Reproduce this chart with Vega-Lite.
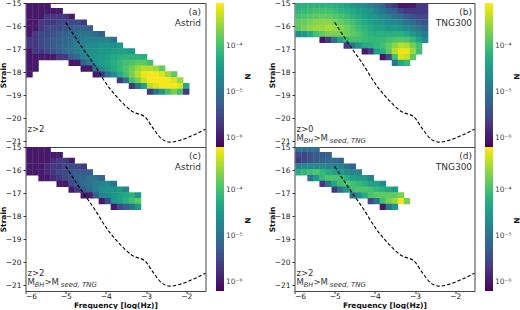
{"$schema":"https://vega.github.io/schema/vega-lite/v6.json","background":"white","padding":{"left":-1.5,"top":-2,"right":0,"bottom":0},"autosize":{"type":"pad"},
"config":{"view":{"stroke":"#444","strokeWidth":1},"font":"DejaVu Sans","axis":{"grid":false,"domain":false,"tickColor":"#333","tickSize":2.5,"labelColor":"#222","labelFontSize":7.5,"titleFontSize":7.5,"titleFontWeight":"bold","titleColor":"#111","labelPadding":2,"labelOverlap":false},"axisX":{"labelPadding":-1,"titlePadding":1},"legend":{"gradientLength":144,"gradientThickness":8,"labelFontSize":7.5,"labelColor":"#444","labelOffset":4,"gradientStrokeWidth":0}},
"datasets":{"one":[{"k":1}],"curve":[{"f":-5,"s":-15.84},{"f":-4.66,"s":-16.75},{"f":-4.28,"s":-17.7},{"f":-3.99,"s":-18.5},{"f":-3.66,"s":-19.2},{"f":-3.33,"s":-19.72},{"f":-3.03,"s":-19.94},{"f":-2.82,"s":-20.45},{"f":-2.62,"s":-20.88},{"f":-2.41,"s":-21.04},{"f":-2.16,"s":-20.96},{"f":-1.83,"s":-20.74},{"f":-1.52,"s":-20.48}],
"a":[
{"x":-5.9,"y":-15.1,"n":1e-6},{"x":-5.9,"y":-15.35,"n":1e-6},{"x":-5.9,"y":-15.6,"n":1e-6},{"x":-5.9,"y":-15.85,"n":1e-6},{"x":-5.9,"y":-16.1,"n":1e-6},{"x":-5.9,"y":-16.35,"n":1e-6},{"x":-5.9,"y":-16.6,"n":2e-6},{"x":-5.9,"y":-16.85,"n":2e-6},{"x":-5.9,"y":-17.1,"n":1e-6},{"x":-5.9,"y":-17.35,"n":1e-6},{"x":-5.9,"y":-17.6,"n":1e-6},{"x":-5.9,"y":-17.85,"n":1e-6},{"x":-5.9,"y":-18.1,"n":1e-6},
{"x":-5.75,"y":-15.1,"n":1e-6},{"x":-5.75,"y":-15.35,"n":1e-6},{"x":-5.75,"y":-15.6,"n":1e-6},{"x":-5.75,"y":-15.85,"n":1e-6},{"x":-5.75,"y":-16.1,"n":1e-6},{"x":-5.75,"y":-16.35,"n":2e-6},{"x":-5.75,"y":-16.6,"n":2e-6},{"x":-5.75,"y":-16.85,"n":2e-6},{"x":-5.75,"y":-17.1,"n":2e-6},{"x":-5.75,"y":-17.35,"n":1e-6},{"x":-5.75,"y":-17.6,"n":1e-6},{"x":-5.75,"y":-17.85,"n":1e-6},
{"x":-5.6,"y":-15.1,"n":1e-6},{"x":-5.6,"y":-15.35,"n":1e-6},{"x":-5.6,"y":-15.6,"n":1e-6},{"x":-5.6,"y":-15.85,"n":2e-6},{"x":-5.6,"y":-16.1,"n":2e-6},{"x":-5.6,"y":-16.35,"n":3e-6},{"x":-5.6,"y":-16.6,"n":3e-6},{"x":-5.6,"y":-16.85,"n":3e-6},{"x":-5.6,"y":-17.1,"n":2e-6},{"x":-5.6,"y":-17.35,"n":1e-6},
{"x":-5.45,"y":-15.1,"n":1e-6},{"x":-5.45,"y":-15.35,"n":1e-6},{"x":-5.45,"y":-15.6,"n":2e-6},{"x":-5.45,"y":-15.85,"n":2e-6},{"x":-5.45,"y":-16.1,"n":3e-6},{"x":-5.45,"y":-16.35,"n":3e-6},{"x":-5.45,"y":-16.6,"n":4e-6},{"x":-5.45,"y":-16.85,"n":4e-6},{"x":-5.45,"y":-17.1,"n":3e-6},{"x":-5.45,"y":-17.35,"n":1e-6},
{"x":-5.3,"y":-15.35,"n":1e-6},{"x":-5.3,"y":-15.6,"n":2e-6},{"x":-5.3,"y":-15.85,"n":2e-6},{"x":-5.3,"y":-16.1,"n":3e-6},{"x":-5.3,"y":-16.35,"n":4e-6},{"x":-5.3,"y":-16.6,"n":5e-6},{"x":-5.3,"y":-16.85,"n":5e-6},{"x":-5.3,"y":-17.1,"n":4e-6},{"x":-5.3,"y":-17.35,"n":1e-6},
{"x":-5.15,"y":-15.35,"n":1e-6},{"x":-5.15,"y":-15.6,"n":2e-6},{"x":-5.15,"y":-15.85,"n":3e-6},{"x":-5.15,"y":-16.1,"n":3e-6},{"x":-5.15,"y":-16.35,"n":5e-6},{"x":-5.15,"y":-16.6,"n":6e-6},{"x":-5.15,"y":-16.85,"n":6e-6},{"x":-5.15,"y":-17.1,"n":5e-6},{"x":-5.15,"y":-17.35,"n":2e-6},
{"x":-5,"y":-15.6,"n":2e-6},{"x":-5,"y":-15.85,"n":3e-6},{"x":-5,"y":-16.1,"n":4e-6},{"x":-5,"y":-16.35,"n":6e-6},{"x":-5,"y":-16.6,"n":7e-6},{"x":-5,"y":-16.85,"n":8e-6},{"x":-5,"y":-17.1,"n":7e-6},{"x":-5,"y":-17.35,"n":2e-6},
{"x":-4.85,"y":-15.6,"n":1e-6},{"x":-4.85,"y":-15.85,"n":3e-6},{"x":-4.85,"y":-16.1,"n":5e-6},{"x":-4.85,"y":-16.35,"n":7e-6},{"x":-4.85,"y":-16.6,"n":9e-6},{"x":-4.85,"y":-16.85,"n":1e-5},{"x":-4.85,"y":-17.1,"n":1e-5},{"x":-4.85,"y":-17.35,"n":5e-6},{"x":-4.85,"y":-17.6,"n":1e-6},
{"x":-4.7,"y":-15.85,"n":3e-6},{"x":-4.7,"y":-16.1,"n":6e-6},{"x":-4.7,"y":-16.35,"n":9e-6},{"x":-4.7,"y":-16.6,"n":1e-5},{"x":-4.7,"y":-16.85,"n":1.3e-5},{"x":-4.7,"y":-17.1,"n":1.3e-5},{"x":-4.7,"y":-17.35,"n":8e-6},{"x":-4.7,"y":-17.6,"n":1e-6},
{"x":-4.55,"y":-15.85,"n":2e-6},{"x":-4.55,"y":-16.1,"n":6e-6},{"x":-4.55,"y":-16.35,"n":1e-5},{"x":-4.55,"y":-16.6,"n":1.3e-5},{"x":-4.55,"y":-16.85,"n":1.6e-5},{"x":-4.55,"y":-17.1,"n":1.8e-5},{"x":-4.55,"y":-17.35,"n":1.5e-5},{"x":-4.55,"y":-17.6,"n":6e-6},{"x":-4.55,"y":-17.85,"n":1e-6},
{"x":-4.4,"y":-16.1,"n":5e-6},{"x":-4.4,"y":-16.35,"n":1e-5},{"x":-4.4,"y":-16.6,"n":1.5e-5},{"x":-4.4,"y":-16.85,"n":2e-5},{"x":-4.4,"y":-17.1,"n":2.2e-5},{"x":-4.4,"y":-17.35,"n":2e-5},{"x":-4.4,"y":-17.6,"n":1.2e-5},{"x":-4.4,"y":-17.85,"n":1e-6},
{"x":-4.25,"y":-16.35,"n":8e-6},{"x":-4.25,"y":-16.6,"n":1.5e-5},{"x":-4.25,"y":-16.85,"n":2e-5},{"x":-4.25,"y":-17.1,"n":2.5e-5},{"x":-4.25,"y":-17.35,"n":3e-5},{"x":-4.25,"y":-17.6,"n":2.5e-5},{"x":-4.25,"y":-17.85,"n":1e-5},{"x":-4.25,"y":-18.1,"n":1e-6},
{"x":-4.1,"y":-16.35,"n":5e-6},{"x":-4.1,"y":-16.6,"n":1.5e-5},{"x":-4.1,"y":-16.85,"n":2.5e-5},{"x":-4.1,"y":-17.1,"n":3e-5},{"x":-4.1,"y":-17.35,"n":3.5e-5},{"x":-4.1,"y":-17.6,"n":3.5e-5},{"x":-4.1,"y":-17.85,"n":2e-5},{"x":-4.1,"y":-18.1,"n":2e-6},
{"x":-3.95,"y":-16.6,"n":1.5e-5},{"x":-3.95,"y":-16.85,"n":2.5e-5},{"x":-3.95,"y":-17.1,"n":3e-5},{"x":-3.95,"y":-17.35,"n":4e-5},{"x":-3.95,"y":-17.6,"n":4.5e-5},{"x":-3.95,"y":-17.85,"n":3.5e-5},{"x":-3.95,"y":-18.1,"n":1e-5},
{"x":-3.8,"y":-16.6,"n":1e-5},{"x":-3.8,"y":-16.85,"n":2.5e-5},{"x":-3.8,"y":-17.1,"n":3.5e-5},{"x":-3.8,"y":-17.35,"n":5e-5},{"x":-3.8,"y":-17.6,"n":6e-5},{"x":-3.8,"y":-17.85,"n":5e-5},{"x":-3.8,"y":-18.1,"n":2e-5},
{"x":-3.65,"y":-16.85,"n":3e-5},{"x":-3.65,"y":-17.1,"n":4e-5},{"x":-3.65,"y":-17.35,"n":6e-5},{"x":-3.65,"y":-17.6,"n":8e-5},{"x":-3.65,"y":-17.85,"n":8e-5},{"x":-3.65,"y":-18.1,"n":5e-5},{"x":-3.65,"y":-18.35,"n":2e-6},
{"x":-3.5,"y":-17.1,"n":4e-5},{"x":-3.5,"y":-17.35,"n":7e-5},{"x":-3.5,"y":-17.6,"n":1e-4},{"x":-3.5,"y":-17.85,"n":1.2e-4},{"x":-3.5,"y":-18.1,"n":1e-4},{"x":-3.5,"y":-18.35,"n":1e-5},
{"x":-3.35,"y":-17.1,"n":3e-5},{"x":-3.35,"y":-17.35,"n":7e-5},{"x":-3.35,"y":-17.6,"n":1.2e-4},{"x":-3.35,"y":-17.85,"n":1.8e-4},{"x":-3.35,"y":-18.1,"n":2e-4},{"x":-3.35,"y":-18.35,"n":1e-4},{"x":-3.35,"y":-18.6,"n":2e-6},
{"x":-3.2,"y":-17.35,"n":7e-5},{"x":-3.2,"y":-17.6,"n":1.5e-4},{"x":-3.2,"y":-17.85,"n":3e-4},{"x":-3.2,"y":-18.1,"n":4e-4},{"x":-3.2,"y":-18.35,"n":2e-4},{"x":-3.2,"y":-18.6,"n":1e-5},
{"x":-3.05,"y":-17.35,"n":6e-5},{"x":-3.05,"y":-17.6,"n":1.5e-4},{"x":-3.05,"y":-17.85,"n":4e-4},{"x":-3.05,"y":-18.1,"n":7e-4},{"x":-3.05,"y":-18.35,"n":5e-4},{"x":-3.05,"y":-18.6,"n":4e-5},
{"x":-2.9,"y":-17.6,"n":1e-4},{"x":-2.9,"y":-17.85,"n":4e-4},{"x":-2.9,"y":-18.1,"n":8e-4},{"x":-2.9,"y":-18.35,"n":8e-4},{"x":-2.9,"y":-18.6,"n":4e-4},{"x":-2.9,"y":-18.85,"n":2e-6},
{"x":-2.75,"y":-17.85,"n":3e-4},{"x":-2.75,"y":-18.1,"n":8e-4},{"x":-2.75,"y":-18.35,"n":8e-4},{"x":-2.75,"y":-18.6,"n":6e-4},{"x":-2.75,"y":-18.85,"n":1e-5},
{"x":-2.6,"y":-17.85,"n":1.5e-4},{"x":-2.6,"y":-18.1,"n":6e-4},{"x":-2.6,"y":-18.35,"n":8e-4},{"x":-2.6,"y":-18.6,"n":8e-4},{"x":-2.6,"y":-18.85,"n":3e-5},
{"x":-2.45,"y":-18.1,"n":3e-4},{"x":-2.45,"y":-18.35,"n":8e-4},{"x":-2.45,"y":-18.6,"n":8e-4},{"x":-2.45,"y":-18.85,"n":1e-4},
{"x":-2.3,"y":-18.1,"n":1.5e-4},{"x":-2.3,"y":-18.35,"n":6e-4},{"x":-2.3,"y":-18.6,"n":8e-4},{"x":-2.3,"y":-18.85,"n":2e-4},
{"x":-2.15,"y":-18.35,"n":3e-4},{"x":-2.15,"y":-18.6,"n":6e-4},{"x":-2.15,"y":-18.85,"n":1e-4},
{"x":-2,"y":-18.6,"n":5e-5},{"x":-2,"y":-18.85,"n":2e-6}],
"b":[
{"x":-5.9,"y":-15.1,"n":6e-5},{"x":-5.9,"y":-15.35,"n":7e-5},{"x":-5.9,"y":-15.6,"n":1e-4},{"x":-5.9,"y":-15.85,"n":1.5e-4},{"x":-5.9,"y":-16.1,"n":1.5e-4},{"x":-5.9,"y":-16.35,"n":2e-5},
{"x":-5.75,"y":-15.1,"n":6e-5},{"x":-5.75,"y":-15.35,"n":8e-5},{"x":-5.75,"y":-15.6,"n":1.2e-4},{"x":-5.75,"y":-15.85,"n":1.6e-4},{"x":-5.75,"y":-16.1,"n":2e-4},{"x":-5.75,"y":-16.35,"n":3e-5},
{"x":-5.6,"y":-15.1,"n":7e-5},{"x":-5.6,"y":-15.35,"n":9e-5},{"x":-5.6,"y":-15.6,"n":1.3e-4},{"x":-5.6,"y":-15.85,"n":2e-4},{"x":-5.6,"y":-16.1,"n":2.5e-4},{"x":-5.6,"y":-16.35,"n":5e-5},
{"x":-5.45,"y":-15.1,"n":7e-5},{"x":-5.45,"y":-15.35,"n":1e-4},{"x":-5.45,"y":-15.6,"n":1.5e-4},{"x":-5.45,"y":-15.85,"n":2.5e-4},{"x":-5.45,"y":-16.1,"n":3e-4},{"x":-5.45,"y":-16.35,"n":1e-4},
{"x":-5.3,"y":-15.1,"n":7e-5},{"x":-5.3,"y":-15.35,"n":1e-4},{"x":-5.3,"y":-15.6,"n":1.6e-4},{"x":-5.3,"y":-15.85,"n":2.5e-4},{"x":-5.3,"y":-16.1,"n":3e-4},{"x":-5.3,"y":-16.35,"n":1.5e-4},{"x":-5.3,"y":-16.6,"n":1e-6},
{"x":-5.15,"y":-15.1,"n":7e-5},{"x":-5.15,"y":-15.35,"n":1e-4},{"x":-5.15,"y":-15.6,"n":1.5e-4},{"x":-5.15,"y":-15.85,"n":2.5e-4},{"x":-5.15,"y":-16.1,"n":3.5e-4},{"x":-5.15,"y":-16.35,"n":2e-4},{"x":-5.15,"y":-16.6,"n":2e-6},
{"x":-5,"y":-15.1,"n":6e-5},{"x":-5,"y":-15.35,"n":9e-5},{"x":-5,"y":-15.6,"n":1.3e-4},{"x":-5,"y":-15.85,"n":2e-4},{"x":-5,"y":-16.1,"n":3e-4},{"x":-5,"y":-16.35,"n":2e-4},{"x":-5,"y":-16.6,"n":1e-5},
{"x":-4.85,"y":-15.1,"n":5e-5},{"x":-4.85,"y":-15.35,"n":7e-5},{"x":-4.85,"y":-15.6,"n":1e-4},{"x":-4.85,"y":-15.85,"n":1.6e-4},{"x":-4.85,"y":-16.1,"n":2.5e-4},{"x":-4.85,"y":-16.35,"n":2e-4},{"x":-4.85,"y":-16.6,"n":4e-5},
{"x":-4.7,"y":-15.1,"n":4e-5},{"x":-4.7,"y":-15.35,"n":6e-5},{"x":-4.7,"y":-15.6,"n":9e-5},{"x":-4.7,"y":-15.85,"n":1.3e-4},{"x":-4.7,"y":-16.1,"n":1.8e-4},{"x":-4.7,"y":-16.35,"n":1.8e-4},{"x":-4.7,"y":-16.6,"n":8e-5},{"x":-4.7,"y":-16.85,"n":2e-6},
{"x":-4.55,"y":-15.1,"n":3e-5},{"x":-4.55,"y":-15.35,"n":5e-5},{"x":-4.55,"y":-15.6,"n":7e-5},{"x":-4.55,"y":-15.85,"n":1e-4},{"x":-4.55,"y":-16.1,"n":1.3e-4},{"x":-4.55,"y":-16.35,"n":1.5e-4},{"x":-4.55,"y":-16.6,"n":1e-4},{"x":-4.55,"y":-16.85,"n":1e-5},
{"x":-4.4,"y":-15.1,"n":2.5e-5},{"x":-4.4,"y":-15.35,"n":4e-5},{"x":-4.4,"y":-15.6,"n":5e-5},{"x":-4.4,"y":-15.85,"n":7e-5},{"x":-4.4,"y":-16.1,"n":9e-5},{"x":-4.4,"y":-16.35,"n":1.2e-4},{"x":-4.4,"y":-16.6,"n":1e-4},{"x":-4.4,"y":-16.85,"n":3e-5},
{"x":-4.25,"y":-15.1,"n":2e-5},{"x":-4.25,"y":-15.35,"n":3e-5},{"x":-4.25,"y":-15.6,"n":4e-5},{"x":-4.25,"y":-15.85,"n":5e-5},{"x":-4.25,"y":-16.1,"n":7e-5},{"x":-4.25,"y":-16.35,"n":9e-5},{"x":-4.25,"y":-16.6,"n":9e-5},{"x":-4.25,"y":-16.85,"n":5e-5},{"x":-4.25,"y":-17.1,"n":1e-6},
{"x":-4.1,"y":-15.1,"n":1.5e-5},{"x":-4.1,"y":-15.35,"n":2.5e-5},{"x":-4.1,"y":-15.6,"n":3e-5},{"x":-4.1,"y":-15.85,"n":4e-5},{"x":-4.1,"y":-16.1,"n":5e-5},{"x":-4.1,"y":-16.35,"n":7e-5},{"x":-4.1,"y":-16.6,"n":8e-5},{"x":-4.1,"y":-16.85,"n":6e-5},{"x":-4.1,"y":-17.1,"n":2e-6},
{"x":-3.95,"y":-15.1,"n":1e-5},{"x":-3.95,"y":-15.35,"n":1.5e-5},{"x":-3.95,"y":-15.6,"n":2.5e-5},{"x":-3.95,"y":-15.85,"n":3e-5},{"x":-3.95,"y":-16.1,"n":4e-5},{"x":-3.95,"y":-16.35,"n":6e-5},{"x":-3.95,"y":-16.6,"n":8e-5},{"x":-3.95,"y":-16.85,"n":8e-5},{"x":-3.95,"y":-17.1,"n":4e-5},
{"x":-3.8,"y":-15.1,"n":6e-6},{"x":-3.8,"y":-15.35,"n":1e-5},{"x":-3.8,"y":-15.6,"n":2e-5},{"x":-3.8,"y":-15.85,"n":2.5e-5},{"x":-3.8,"y":-16.1,"n":4e-5},{"x":-3.8,"y":-16.35,"n":6e-5},{"x":-3.8,"y":-16.6,"n":8e-5},{"x":-3.8,"y":-16.85,"n":1e-4},{"x":-3.8,"y":-17.1,"n":6e-5},{"x":-3.8,"y":-17.35,"n":1e-6},
{"x":-3.65,"y":-15.1,"n":3e-6},{"x":-3.65,"y":-15.35,"n":7e-6},{"x":-3.65,"y":-15.6,"n":1.5e-5},{"x":-3.65,"y":-15.85,"n":2e-5},{"x":-3.65,"y":-16.1,"n":3e-5},{"x":-3.65,"y":-16.35,"n":6e-5},{"x":-3.65,"y":-16.6,"n":1e-4},{"x":-3.65,"y":-16.85,"n":1.5e-4},{"x":-3.65,"y":-17.1,"n":1.5e-4},{"x":-3.65,"y":-17.35,"n":3e-6},
{"x":-3.5,"y":-15.1,"n":2e-6},{"x":-3.5,"y":-15.35,"n":5e-6},{"x":-3.5,"y":-15.6,"n":1e-5},{"x":-3.5,"y":-15.85,"n":2e-5},{"x":-3.5,"y":-16.1,"n":3e-5},{"x":-3.5,"y":-16.35,"n":6e-5},{"x":-3.5,"y":-16.6,"n":1.2e-4},{"x":-3.5,"y":-16.85,"n":2.5e-4},{"x":-3.5,"y":-17.1,"n":4e-4},{"x":-3.5,"y":-17.35,"n":1e-4},{"x":-3.5,"y":-17.6,"n":1e-5},
{"x":-3.35,"y":-15.1,"n":1e-6},{"x":-3.35,"y":-15.35,"n":3e-6},{"x":-3.35,"y":-15.6,"n":8e-6},{"x":-3.35,"y":-15.85,"n":1.5e-5},{"x":-3.35,"y":-16.1,"n":2.5e-5},{"x":-3.35,"y":-16.35,"n":6e-5},{"x":-3.35,"y":-16.6,"n":1.3e-4},{"x":-3.35,"y":-16.85,"n":4e-4},{"x":-3.35,"y":-17.1,"n":7e-4},{"x":-3.35,"y":-17.35,"n":6e-4},{"x":-3.35,"y":-17.6,"n":5e-5},
{"x":-3.2,"y":-15.1,"n":1e-6},{"x":-3.2,"y":-15.35,"n":2e-6},{"x":-3.2,"y":-15.6,"n":5e-6},{"x":-3.2,"y":-15.85,"n":1e-5},{"x":-3.2,"y":-16.1,"n":2e-5},{"x":-3.2,"y":-16.35,"n":5e-5},{"x":-3.2,"y":-16.6,"n":1.2e-4},{"x":-3.2,"y":-16.85,"n":3.5e-4},{"x":-3.2,"y":-17.1,"n":7e-4},{"x":-3.2,"y":-17.35,"n":5e-4},{"x":-3.2,"y":-17.6,"n":8e-5},
{"x":-3.05,"y":-15.1,"n":1e-6},{"x":-3.05,"y":-15.35,"n":2e-6},{"x":-3.05,"y":-15.6,"n":4e-6},{"x":-3.05,"y":-15.85,"n":8e-6},{"x":-3.05,"y":-16.1,"n":1.5e-5},{"x":-3.05,"y":-16.35,"n":3e-5},{"x":-3.05,"y":-16.6,"n":8e-5},{"x":-3.05,"y":-16.85,"n":2e-4},{"x":-3.05,"y":-17.1,"n":3e-4},{"x":-3.05,"y":-17.35,"n":1.5e-4},
{"x":-2.9,"y":-15.1,"n":2e-6},{"x":-2.9,"y":-15.35,"n":2e-6},{"x":-2.9,"y":-15.6,"n":3e-6},{"x":-2.9,"y":-15.85,"n":5e-6},{"x":-2.9,"y":-16.1,"n":1e-5},{"x":-2.9,"y":-16.35,"n":2e-5},{"x":-2.9,"y":-16.6,"n":4e-5},{"x":-2.9,"y":-16.85,"n":1e-4},{"x":-2.9,"y":-17.1,"n":1e-4},
{"x":-2.75,"y":-15.1,"n":2e-6},{"x":-2.75,"y":-15.35,"n":2e-6},{"x":-2.75,"y":-15.6,"n":3e-6},{"x":-2.75,"y":-15.85,"n":4e-6},{"x":-2.75,"y":-16.1,"n":7e-6},{"x":-2.75,"y":-16.35,"n":1.2e-5},{"x":-2.75,"y":-16.6,"n":2e-5}],
"c":[
{"x":-5.9,"y":-15.1,"n":1e-6},{"x":-5.9,"y":-15.35,"n":1e-6},{"x":-5.9,"y":-15.6,"n":1e-6},{"x":-5.9,"y":-15.85,"n":1e-6},{"x":-5.9,"y":-16.1,"n":1e-6},
{"x":-5.75,"y":-15.1,"n":1e-6},{"x":-5.75,"y":-15.35,"n":1e-6},{"x":-5.75,"y":-15.6,"n":1e-6},{"x":-5.75,"y":-15.85,"n":1e-6},{"x":-5.75,"y":-16.1,"n":1e-6},
{"x":-5.6,"y":-15.1,"n":1e-6},{"x":-5.6,"y":-15.35,"n":1e-6},{"x":-5.6,"y":-15.6,"n":1e-6},{"x":-5.6,"y":-15.85,"n":1e-6},{"x":-5.6,"y":-16.1,"n":1e-6},{"x":-5.6,"y":-16.35,"n":1e-6},
{"x":-5.45,"y":-15.1,"n":1e-6},{"x":-5.45,"y":-15.35,"n":1e-6},{"x":-5.45,"y":-15.6,"n":1e-6},{"x":-5.45,"y":-15.85,"n":1.5e-6},{"x":-5.45,"y":-16.1,"n":1.5e-6},{"x":-5.45,"y":-16.35,"n":1e-6},
{"x":-5.3,"y":-15.35,"n":1e-6},{"x":-5.3,"y":-15.6,"n":1.5e-6},{"x":-5.3,"y":-15.85,"n":2e-6},{"x":-5.3,"y":-16.1,"n":2e-6},{"x":-5.3,"y":-16.35,"n":1.5e-6},
{"x":-5.15,"y":-15.35,"n":1e-6},{"x":-5.15,"y":-15.6,"n":2e-6},{"x":-5.15,"y":-15.85,"n":2e-6},{"x":-5.15,"y":-16.1,"n":3e-6},{"x":-5.15,"y":-16.35,"n":2e-6},{"x":-5.15,"y":-16.6,"n":1e-6},
{"x":-5,"y":-15.6,"n":2e-6},{"x":-5,"y":-15.85,"n":3e-6},{"x":-5,"y":-16.1,"n":3e-6},{"x":-5,"y":-16.35,"n":3e-6},{"x":-5,"y":-16.6,"n":1e-6},
{"x":-4.85,"y":-15.6,"n":1e-6},{"x":-4.85,"y":-15.85,"n":3e-6},{"x":-4.85,"y":-16.1,"n":4e-6},{"x":-4.85,"y":-16.35,"n":4e-6},{"x":-4.85,"y":-16.6,"n":3e-6},{"x":-4.85,"y":-16.85,"n":1e-6},
{"x":-4.7,"y":-15.85,"n":3e-6},{"x":-4.7,"y":-16.1,"n":5e-6},{"x":-4.7,"y":-16.35,"n":6e-6},{"x":-4.7,"y":-16.6,"n":5e-6},{"x":-4.7,"y":-16.85,"n":2e-6},
{"x":-4.55,"y":-15.85,"n":2e-6},{"x":-4.55,"y":-16.1,"n":5e-6},{"x":-4.55,"y":-16.35,"n":7e-6},{"x":-4.55,"y":-16.6,"n":8e-6},{"x":-4.55,"y":-16.85,"n":5e-6},{"x":-4.55,"y":-17.1,"n":1e-6},
{"x":-4.4,"y":-16.1,"n":5e-6},{"x":-4.4,"y":-16.35,"n":1e-5},{"x":-4.4,"y":-16.6,"n":1e-5},{"x":-4.4,"y":-16.85,"n":8e-6},{"x":-4.4,"y":-17.1,"n":1e-6},
{"x":-4.25,"y":-16.35,"n":1e-5},{"x":-4.25,"y":-16.6,"n":1.3e-5},{"x":-4.25,"y":-16.85,"n":1.3e-5},{"x":-4.25,"y":-17.1,"n":5e-6},
{"x":-4.1,"y":-16.35,"n":6e-6},{"x":-4.1,"y":-16.6,"n":1.5e-5},{"x":-4.1,"y":-16.85,"n":2e-5},{"x":-4.1,"y":-17.1,"n":1.5e-5},{"x":-4.1,"y":-17.35,"n":1e-6},
{"x":-3.95,"y":-16.6,"n":2e-5},{"x":-3.95,"y":-16.85,"n":2.5e-5},{"x":-3.95,"y":-17.1,"n":2e-5},{"x":-3.95,"y":-17.35,"n":3e-6},
{"x":-3.8,"y":-16.6,"n":1e-5},{"x":-3.8,"y":-16.85,"n":2.5e-5},{"x":-3.8,"y":-17.1,"n":3e-5},{"x":-3.8,"y":-17.35,"n":2.5e-5},{"x":-3.8,"y":-17.6,"n":1e-6},
{"x":-3.65,"y":-16.85,"n":3e-5},{"x":-3.65,"y":-17.1,"n":4e-5},{"x":-3.65,"y":-17.35,"n":4e-5},{"x":-3.65,"y":-17.6,"n":3e-6},
{"x":-3.5,"y":-16.85,"n":1.5e-5},{"x":-3.5,"y":-17.1,"n":5e-5},{"x":-3.5,"y":-17.35,"n":6e-5},{"x":-3.5,"y":-17.6,"n":5e-6},
{"x":-3.35,"y":-17.1,"n":7e-5},{"x":-3.35,"y":-17.35,"n":1e-4},{"x":-3.35,"y":-17.6,"n":1e-5},
{"x":-3.2,"y":-17.1,"n":3e-5},{"x":-3.2,"y":-17.35,"n":1.5e-4},{"x":-3.2,"y":-17.6,"n":3e-5}],
"d":[
{"x":-5.9,"y":-15.1,"n":1e-5},{"x":-5.9,"y":-15.35,"n":3e-6},{"x":-5.9,"y":-15.6,"n":2e-6},{"x":-5.9,"y":-15.85,"n":1.5e-5},{"x":-5.9,"y":-16.1,"n":6e-5},
{"x":-5.75,"y":-15.1,"n":1e-5},{"x":-5.75,"y":-15.35,"n":3e-6},{"x":-5.75,"y":-15.6,"n":3e-6},{"x":-5.75,"y":-15.85,"n":2e-5},{"x":-5.75,"y":-16.1,"n":8e-5},
{"x":-5.6,"y":-15.1,"n":1e-5},{"x":-5.6,"y":-15.35,"n":4e-6},{"x":-5.6,"y":-15.6,"n":4e-6},{"x":-5.6,"y":-15.85,"n":2e-5},{"x":-5.6,"y":-16.1,"n":1e-4},{"x":-5.6,"y":-16.35,"n":1e-5},
{"x":-5.45,"y":-15.1,"n":1e-5},{"x":-5.45,"y":-15.35,"n":5e-6},{"x":-5.45,"y":-15.6,"n":5e-6},{"x":-5.45,"y":-15.85,"n":2e-5},{"x":-5.45,"y":-16.1,"n":1.2e-4},{"x":-5.45,"y":-16.35,"n":3e-5},
{"x":-5.3,"y":-15.35,"n":5e-6},{"x":-5.3,"y":-15.6,"n":6e-6},{"x":-5.3,"y":-15.85,"n":2e-5},{"x":-5.3,"y":-16.1,"n":8e-5},{"x":-5.3,"y":-16.35,"n":8e-5},{"x":-5.3,"y":-16.6,"n":2e-6},
{"x":-5.15,"y":-15.35,"n":6e-6},{"x":-5.15,"y":-15.6,"n":7e-6},{"x":-5.15,"y":-15.85,"n":1.5e-5},{"x":-5.15,"y":-16.1,"n":5e-5},{"x":-5.15,"y":-16.35,"n":1.2e-4},{"x":-5.15,"y":-16.6,"n":1e-5},
{"x":-5,"y":-15.6,"n":8e-6},{"x":-5,"y":-15.85,"n":1.5e-5},{"x":-5,"y":-16.1,"n":4e-5},{"x":-5,"y":-16.35,"n":1.2e-4},{"x":-5,"y":-16.6,"n":5e-5},{"x":-5,"y":-16.85,"n":2e-6},
{"x":-4.85,"y":-15.6,"n":6e-6},{"x":-4.85,"y":-15.85,"n":1.5e-5},{"x":-4.85,"y":-16.1,"n":3e-5},{"x":-4.85,"y":-16.35,"n":1e-4},{"x":-4.85,"y":-16.6,"n":1e-4},{"x":-4.85,"y":-16.85,"n":1e-5},
{"x":-4.7,"y":-15.85,"n":1e-5},{"x":-4.7,"y":-16.1,"n":2e-5},{"x":-4.7,"y":-16.35,"n":6e-5},{"x":-4.7,"y":-16.6,"n":1.2e-4},{"x":-4.7,"y":-16.85,"n":3e-5},
{"x":-4.55,"y":-15.85,"n":6e-6},{"x":-4.55,"y":-16.1,"n":1.5e-5},{"x":-4.55,"y":-16.35,"n":4e-5},{"x":-4.55,"y":-16.6,"n":1e-4},{"x":-4.55,"y":-16.85,"n":1e-4},{"x":-4.55,"y":-17.1,"n":1e-5},
{"x":-4.4,"y":-16.1,"n":1.5e-5},{"x":-4.4,"y":-16.35,"n":3e-5},{"x":-4.4,"y":-16.6,"n":8e-5},{"x":-4.4,"y":-16.85,"n":1.2e-4},{"x":-4.4,"y":-17.1,"n":2e-5},
{"x":-4.25,"y":-16.35,"n":3e-5},{"x":-4.25,"y":-16.6,"n":6e-5},{"x":-4.25,"y":-16.85,"n":1.2e-4},{"x":-4.25,"y":-17.1,"n":5e-5},
{"x":-4.1,"y":-16.35,"n":1.5e-5},{"x":-4.1,"y":-16.6,"n":4e-5},{"x":-4.1,"y":-16.85,"n":1e-4},{"x":-4.1,"y":-17.1,"n":1.2e-4},{"x":-4.1,"y":-17.35,"n":3e-6},
{"x":-3.95,"y":-16.6,"n":4e-5},{"x":-3.95,"y":-16.85,"n":8e-5},{"x":-3.95,"y":-17.1,"n":1.5e-4},{"x":-3.95,"y":-17.35,"n":1e-5},
{"x":-3.8,"y":-16.6,"n":2e-5},{"x":-3.8,"y":-16.85,"n":6e-5},{"x":-3.8,"y":-17.1,"n":1.5e-4},{"x":-3.8,"y":-17.35,"n":1e-4},{"x":-3.8,"y":-17.6,"n":1e-6},
{"x":-3.65,"y":-16.85,"n":5e-5},{"x":-3.65,"y":-17.1,"n":1.5e-4},{"x":-3.65,"y":-17.35,"n":2e-4},{"x":-3.65,"y":-17.6,"n":1e-5},
{"x":-3.5,"y":-16.85,"n":3e-5},{"x":-3.5,"y":-17.1,"n":1.5e-4},{"x":-3.5,"y":-17.35,"n":3e-4},{"x":-3.5,"y":-17.6,"n":3e-5},
{"x":-3.35,"y":-17.1,"n":2e-4},{"x":-3.35,"y":-17.35,"n":8e-4},
{"x":-3.2,"y":-17.35,"n":2e-4}]},
"bounds":"flush","spacing":269,"resolve":{"scale":{"color":"independent"}},
"hconcat":[
{"vconcat":[
{"width":180,"height":144,"data":{"name":"one"},"resolve":{"axis":{"x":"independent","y":"independent"}},"layer":[
{"data":{"name":"a"},"mark":{"type":"rect","width":6.4,"height":6.1,"clip":true},"encoding":{"x":{"field":"x","type":"quantitative","scale":{"domain":[-6,-1.52],"nice":false,"zero":false},"axis":{"values":[-6,-5,-4,-3,-2],"labels":false,"ticks":false,"title":null}},"y":{"field":"y","type":"quantitative","scale":{"domain":[-21.25,-15],"nice":false,"zero":false},"axis":{"values":[-15,-16,-17,-18,-19,-20,-21],"title":"Strain","titleX":-18.5}},"color":{"field":"n","type":"quantitative","scale":{"type":"log","scheme":"viridis","domain":[6.3e-7,8.9e-4],"clamp":true,"nice":false},"legend":{"orient":"none","legendX":190.5,"legendY":0,"title":null,"values":[1e-6,1e-5,1e-4],"labelExpr":"datum.value<5e-6?'10⁻⁶':datum.value<5e-5?'10⁻⁵':'10⁻⁴'"}}}},
{"data":{"name":"curve"},"mark":{"type":"line","color":"black","strokeWidth":1.1,"strokeDash":[3.5,2],"interpolate":"monotone"},"encoding":{"x":{"field":"f","type":"quantitative","axis":null},"y":{"field":"s","type":"quantitative","axis":null}}},
{"mark":{"type":"text","align":"right","fontSize":9,"color":"#333"},"encoding":{"x":{"datum":-1.63,"axis":null},"y":{"datum":-15.4,"axis":null},"text":{"value":"(a)"}}},
{"mark":{"type":"text","align":"right","fontSize":9,"color":"#333"},"encoding":{"x":{"datum":-1.63,"axis":null},"y":{"datum":-15.85,"axis":null},"text":{"value":"Astrid"}}},
{"mark":{"type":"text","align":"left","fontSize":8.5,"color":"#333"},"encoding":{"x":{"datum":-5.95,"axis":null},"y":{"datum":-20.45,"axis":null},"text":{"value":"z>2"}}},
{"mark":{"type":"text","fontSize":7.5,"fontWeight":"bold","angle":90,"color":"#111"},"encoding":{"x":{"datum":-0.475,"axis":null},"y":{"datum":-18.2,"axis":null},"text":{"value":"N"}}}
]},
{"width":180,"height":144,"data":{"name":"one"},"resolve":{"axis":{"x":"independent","y":"independent"}},"layer":[
{"data":{"name":"c"},"mark":{"type":"rect","width":6.4,"height":6.1,"clip":true},"encoding":{"x":{"field":"x","type":"quantitative","scale":{"domain":[-6,-1.52],"nice":false,"zero":false},"axis":{"values":[-6,-5,-4,-3,-2],"title":"Frequency [log(Hz)]"}},"y":{"field":"y","type":"quantitative","scale":{"domain":[-21.25,-15],"nice":false,"zero":false},"axis":{"values":[-15,-16,-17,-18,-19,-20,-21],"title":"Strain","titleX":-18.5}},"color":{"field":"n","type":"quantitative","scale":{"type":"log","scheme":"viridis","domain":[6.3e-7,8.9e-4],"clamp":true,"nice":false},"legend":{"orient":"none","legendX":190.5,"legendY":0,"title":null,"values":[1e-6,1e-5,1e-4],"labelExpr":"datum.value<5e-6?'10⁻⁶':datum.value<5e-5?'10⁻⁵':'10⁻⁴'"}}}},
{"data":{"name":"curve"},"mark":{"type":"line","color":"black","strokeWidth":1.1,"strokeDash":[3.5,2],"interpolate":"monotone"},"encoding":{"x":{"field":"f","type":"quantitative","axis":null},"y":{"field":"s","type":"quantitative","axis":null}}},
{"mark":{"type":"text","align":"right","fontSize":9,"color":"#333"},"encoding":{"x":{"datum":-1.63,"axis":null},"y":{"datum":-15.4,"axis":null},"text":{"value":"(c)"}}},
{"mark":{"type":"text","align":"right","fontSize":9,"color":"#333"},"encoding":{"x":{"datum":-1.63,"axis":null},"y":{"datum":-15.85,"axis":null},"text":{"value":"Astrid"}}},
{"mark":{"type":"text","align":"left","fontSize":8.5,"color":"#333"},"encoding":{"x":{"datum":-5.95,"axis":null},"y":{"datum":-20.45,"axis":null},"text":{"value":"z>2"}}},
{"mark":{"type":"text","align":"left","fontSize":8.5,"color":"#333"},"encoding":{"x":{"datum":-5.95,"axis":null},"y":{"datum":-20.88,"axis":null},"text":{"value":"M"}}},
{"mark":{"type":"text","align":"left","fontSize":6.5,"fontStyle":"italic","color":"#333"},"encoding":{"x":{"datum":-5.77,"axis":null},"y":{"datum":-21,"axis":null},"text":{"value":"BH"}}},
{"mark":{"type":"text","align":"left","fontSize":8.5,"color":"#333"},"encoding":{"x":{"datum":-5.53,"axis":null},"y":{"datum":-20.88,"axis":null},"text":{"value":">M"}}},
{"mark":{"type":"text","align":"left","fontSize":7,"fontStyle":"italic","color":"#333"},"encoding":{"x":{"datum":-5.12,"axis":null},"y":{"datum":-21,"axis":null},"text":{"value":"seed, TNG"}}},
{"mark":{"type":"text","fontSize":7.5,"fontWeight":"bold","angle":90,"color":"#111"},"encoding":{"x":{"datum":-0.475,"axis":null},"y":{"datum":-18.2,"axis":null},"text":{"value":"N"}}}
]}
],"spacing":0,"bounds":"flush","resolve":{"scale":{"color":"independent"}}},
{"vconcat":[
{"width":180,"height":144,"data":{"name":"one"},"resolve":{"axis":{"x":"independent","y":"independent"}},"layer":[
{"data":{"name":"b"},"mark":{"type":"rect","width":6.4,"height":6.1,"clip":true},"encoding":{"x":{"field":"x","type":"quantitative","scale":{"domain":[-6,-1.52],"nice":false,"zero":false},"axis":{"values":[-6,-5,-4,-3,-2],"labels":false,"ticks":false,"title":null}},"y":{"field":"y","type":"quantitative","scale":{"domain":[-21.25,-15],"nice":false,"zero":false},"axis":{"values":[-15,-16,-17,-18,-19,-20,-21],"title":"Strain","titleX":-18.5}},"color":{"field":"n","type":"quantitative","scale":{"type":"log","scheme":"viridis","domain":[6.3e-7,8.9e-4],"clamp":true,"nice":false},"legend":{"orient":"none","legendX":190.5,"legendY":0,"title":null,"values":[1e-6,1e-5,1e-4],"labelExpr":"datum.value<5e-6?'10⁻⁶':datum.value<5e-5?'10⁻⁵':'10⁻⁴'"}}}},
{"data":{"name":"curve"},"mark":{"type":"line","color":"black","strokeWidth":1.1,"strokeDash":[3.5,2],"interpolate":"monotone"},"encoding":{"x":{"field":"f","type":"quantitative","axis":null},"y":{"field":"s","type":"quantitative","axis":null}}},
{"mark":{"type":"text","align":"right","fontSize":9,"color":"#333"},"encoding":{"x":{"datum":-1.58,"axis":null},"y":{"datum":-15.4,"axis":null},"text":{"value":"(b)"}}},
{"mark":{"type":"text","align":"right","fontSize":9,"color":"#333"},"encoding":{"x":{"datum":-1.58,"axis":null},"y":{"datum":-15.85,"axis":null},"text":{"value":"TNG300"}}},
{"mark":{"type":"text","align":"left","fontSize":8.5,"color":"#333"},"encoding":{"x":{"datum":-5.95,"axis":null},"y":{"datum":-20.45,"axis":null},"text":{"value":"z>0"}}},
{"mark":{"type":"text","align":"left","fontSize":8.5,"color":"#333"},"encoding":{"x":{"datum":-5.95,"axis":null},"y":{"datum":-20.88,"axis":null},"text":{"value":"M"}}},
{"mark":{"type":"text","align":"left","fontSize":6.5,"fontStyle":"italic","color":"#333"},"encoding":{"x":{"datum":-5.77,"axis":null},"y":{"datum":-21,"axis":null},"text":{"value":"BH"}}},
{"mark":{"type":"text","align":"left","fontSize":8.5,"color":"#333"},"encoding":{"x":{"datum":-5.53,"axis":null},"y":{"datum":-20.88,"axis":null},"text":{"value":">M"}}},
{"mark":{"type":"text","align":"left","fontSize":7,"fontStyle":"italic","color":"#333"},"encoding":{"x":{"datum":-5.12,"axis":null},"y":{"datum":-21,"axis":null},"text":{"value":"seed, TNG"}}},
{"mark":{"type":"text","fontSize":7.5,"fontWeight":"bold","angle":90,"color":"#111"},"encoding":{"x":{"datum":-0.475,"axis":null},"y":{"datum":-18.2,"axis":null},"text":{"value":"N"}}}
]},
{"width":180,"height":144,"data":{"name":"one"},"resolve":{"axis":{"x":"independent","y":"independent"}},"layer":[
{"data":{"name":"d"},"mark":{"type":"rect","width":6.4,"height":6.1,"clip":true},"encoding":{"x":{"field":"x","type":"quantitative","scale":{"domain":[-6,-1.52],"nice":false,"zero":false},"axis":{"values":[-6,-5,-4,-3,-2],"title":"Frequency [log(Hz)]"}},"y":{"field":"y","type":"quantitative","scale":{"domain":[-21.25,-15],"nice":false,"zero":false},"axis":{"values":[-15,-16,-17,-18,-19,-20,-21],"title":"Strain","titleX":-18.5}},"color":{"field":"n","type":"quantitative","scale":{"type":"log","scheme":"viridis","domain":[6.3e-7,8.9e-4],"clamp":true,"nice":false},"legend":{"orient":"none","legendX":190.5,"legendY":0,"title":null,"values":[1e-6,1e-5,1e-4],"labelExpr":"datum.value<5e-6?'10⁻⁶':datum.value<5e-5?'10⁻⁵':'10⁻⁴'"}}}},
{"data":{"name":"curve"},"mark":{"type":"line","color":"black","strokeWidth":1.1,"strokeDash":[3.5,2],"interpolate":"monotone"},"encoding":{"x":{"field":"f","type":"quantitative","axis":null},"y":{"field":"s","type":"quantitative","axis":null}}},
{"mark":{"type":"text","align":"right","fontSize":9,"color":"#333"},"encoding":{"x":{"datum":-1.58,"axis":null},"y":{"datum":-15.4,"axis":null},"text":{"value":"(d)"}}},
{"mark":{"type":"text","align":"right","fontSize":9,"color":"#333"},"encoding":{"x":{"datum":-1.58,"axis":null},"y":{"datum":-15.85,"axis":null},"text":{"value":"TNG300"}}},
{"mark":{"type":"text","align":"left","fontSize":8.5,"color":"#333"},"encoding":{"x":{"datum":-5.95,"axis":null},"y":{"datum":-20.45,"axis":null},"text":{"value":"z>2"}}},
{"mark":{"type":"text","align":"left","fontSize":8.5,"color":"#333"},"encoding":{"x":{"datum":-5.95,"axis":null},"y":{"datum":-20.88,"axis":null},"text":{"value":"M"}}},
{"mark":{"type":"text","align":"left","fontSize":6.5,"fontStyle":"italic","color":"#333"},"encoding":{"x":{"datum":-5.77,"axis":null},"y":{"datum":-21,"axis":null},"text":{"value":"BH"}}},
{"mark":{"type":"text","align":"left","fontSize":8.5,"color":"#333"},"encoding":{"x":{"datum":-5.53,"axis":null},"y":{"datum":-20.88,"axis":null},"text":{"value":">M"}}},
{"mark":{"type":"text","align":"left","fontSize":7,"fontStyle":"italic","color":"#333"},"encoding":{"x":{"datum":-5.12,"axis":null},"y":{"datum":-21,"axis":null},"text":{"value":"seed, TNG"}}},
{"mark":{"type":"text","fontSize":7.5,"fontWeight":"bold","angle":90,"color":"#111"},"encoding":{"x":{"datum":-0.475,"axis":null},"y":{"datum":-18.2,"axis":null},"text":{"value":"N"}}}
]}
],"spacing":0,"bounds":"flush","resolve":{"scale":{"color":"independent"}}}
]}
